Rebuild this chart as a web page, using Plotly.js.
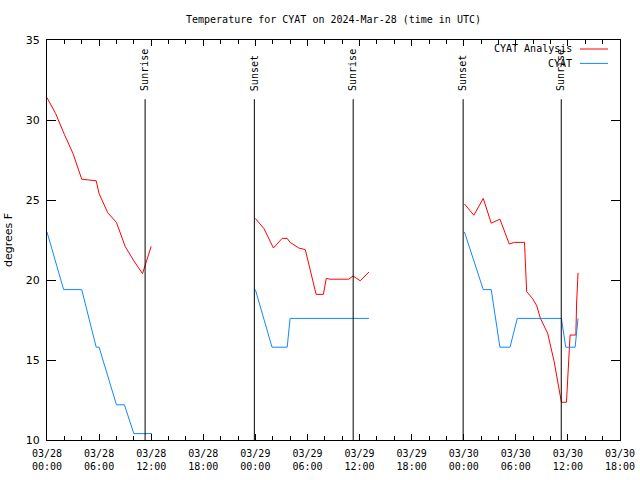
<!DOCTYPE html>
<html>
<head>
<meta charset="utf-8">
<script src="https://cdn.plot.ly/plotly-3.0.1.min.js"></script>
<style>html,body{margin:0;padding:0;background:#fff;}#chart{width:640px;height:480px;}</style>
</head>
<body>
<div id="chart"></div>
<script>
// ---- data ----
const analysisTimes = [
  '2024-03-28 00:00','2024-03-28 01:00','2024-03-28 02:00','2024-03-28 03:00','2024-03-28 04:00',
  '2024-03-28 05:00','2024-03-28 05:40','2024-03-28 06:00','2024-03-28 07:00','2024-03-28 08:00',
  '2024-03-28 09:00','2024-03-28 10:00','2024-03-28 11:00','2024-03-28 12:00',
  '2024-03-28 18:00',
  '2024-03-29 00:00','2024-03-29 01:00','2024-03-29 02:05','2024-03-29 03:05','2024-03-29 03:40',
  '2024-03-29 04:00','2024-03-29 05:00','2024-03-29 05:45','2024-03-29 07:00','2024-03-29 07:50',
  '2024-03-29 08:10','2024-03-29 08:35','2024-03-29 10:45','2024-03-29 11:15','2024-03-29 12:05',
  '2024-03-29 13:05',
  '2024-03-29 18:00',
  '2024-03-30 00:05','2024-03-30 01:10','2024-03-30 02:15','2024-03-30 03:10','2024-03-30 04:10',
  '2024-03-30 05:15','2024-03-30 05:50','2024-03-30 07:00','2024-03-30 07:15','2024-03-30 07:55',
  '2024-03-30 08:25','2024-03-30 08:50','2024-03-30 09:40','2024-03-30 10:25','2024-03-30 11:15',
  '2024-03-30 11:50','2024-03-30 12:15','2024-03-30 12:55','2024-03-30 13:00','2024-03-30 13:10'
];
const analysisTemps = [
  31.4, 30.4, 29.1, 27.9, 26.3,
  26.25, 26.2, 25.4, 24.2, 23.6,
  22.1, 21.2, 20.4, 22.1,
  null,
  23.85, 23.2, 22.0, 22.6, 22.6,
  22.35, 22.0, 21.9, 19.1, 19.1,
  20.1, 20.05, 20.05, 20.25, 19.95,
  20.5,
  null,
  24.75, 24.05, 25.1, 23.55, 23.8,
  22.25, 22.35, 22.35, 19.27, 18.85,
  18.38, 17.6, 16.67, 14.9, 12.36,
  12.36, 16.56, 16.56, 18.5, 20.45
];
const obsTimes = [
  '2024-03-28 00:00','2024-03-28 01:55','2024-03-28 04:00','2024-03-28 05:40','2024-03-28 06:00',
  '2024-03-28 08:00','2024-03-28 08:55','2024-03-28 10:00','2024-03-28 12:05',
  '2024-03-28 18:00',
  '2024-03-29 00:00','2024-03-29 01:55','2024-03-29 03:40','2024-03-29 04:00','2024-03-29 13:05',
  '2024-03-29 18:00',
  '2024-03-30 00:05','2024-03-30 02:15','2024-03-30 03:10','2024-03-30 04:10','2024-03-30 05:20',
  '2024-03-30 06:10','2024-03-30 11:15','2024-03-30 11:45','2024-03-30 12:50','2024-03-30 13:10'
];
const obsTemps = [
  23.0, 19.4, 19.4, 15.8, 15.8,
  12.2, 12.2, 10.4, 10.4,
  null,
  19.4, 15.8, 15.8, 17.6, 17.6,
  null,
  23.0, 19.4, 19.4, 15.8, 15.8,
  17.6, 17.6, 15.8, 15.8, 17.6
];
const sunTimes  = ['2024-03-28 11:18','2024-03-28 23:53','2024-03-29 11:16','2024-03-29 23:56','2024-03-30 11:14'];
const sunLabels = ['Sunrise','Sunset','Sunrise','Sunset','Sunrise'];
const tickVals = ['2024-03-28 00:00','2024-03-28 06:00','2024-03-28 12:00','2024-03-28 18:00',
                  '2024-03-29 00:00','2024-03-29 06:00','2024-03-29 12:00','2024-03-29 18:00',
                  '2024-03-30 00:00','2024-03-30 06:00','2024-03-30 12:00','2024-03-30 18:00'];
const tickText = ['03/28<br>00:00','03/28<br>06:00','03/28<br>12:00','03/28<br>18:00',
                  '03/29<br>00:00','03/29<br>06:00','03/29<br>12:00','03/29<br>18:00',
                  '03/30<br>00:00','03/30<br>06:00','03/30<br>12:00','03/30<br>18:00'];
const seriesNames = ['CYAT Analysis','CYAT'];
const seriesColors = ['#ff0000','#1188ff'];

// ---- chart ----
const mono = 'DejaVu Sans Mono, Liberation Mono, monospace';
const sans = 'DejaVu Sans, Liberation Sans, sans-serif';

const traces = [
  {x: analysisTimes, y: analysisTemps, type:'scatter', mode:'lines', name: seriesNames[0],
   line:{color: seriesColors[0], width:1}, connectgaps:false, hoverinfo:'skip'},
  {x: obsTimes, y: obsTemps, type:'scatter', mode:'lines', name: seriesNames[1],
   line:{color: seriesColors[1], width:1}, connectgaps:false, hoverinfo:'skip'}
];

const shapes = sunTimes.map(t => ({
  type:'line', xref:'x', yref:'paper', x0:t, x1:t, y0:0, y1:0.852,
  line:{color:'black', width:1}
}));
const annotations = sunTimes.map((t,i) => ({
  xref:'x', yref:'paper', x:t, y:0.868, text: sunLabels[i], textangle:-90,
  xanchor:'center', yanchor:'bottom', showarrow:false,
  font:{family:mono, size:10, color:'black'}
}));
// legend (gnuplot style: text then sample line)
seriesNames.forEach((n,i) => {
  const yp = 0.9775 - i*0.036;
  annotations.push({xref:'paper', yref:'paper', x:0.919, y:yp, text:n, xanchor:'right', yanchor:'middle',
    showarrow:false, font:{family:mono, size:10, color:'black'}});
  shapes.push({type:'line', xref:'paper', yref:'paper', x0:0.930, x1:0.979, y0:yp, y1:yp,
    line:{color: seriesColors[i], width:1}});
});

const layout = {
  width:640, height:480,
  margin:{l:47, r:20, t:40, b:40},
  paper_bgcolor:'white', plot_bgcolor:'white',
  showlegend:false,
  title:{text:'Temperature for CYAT on 2024-Mar-28 (time in UTC)', font:{family:mono, size:10, color:'black'},
         x:0.5, xref:'paper', xanchor:'center', y:1-19/480, yref:'container', yanchor:'middle'},
  xaxis:{type:'date', range:['2024-03-28 00:00','2024-03-30 18:00'],
         tickmode:'array', tickvals:tickVals, ticktext:tickText,
         ticks:'inside', ticklen:6, tickcolor:'black', tickwidth:1,
         minor:{dtick:2*3600*1000, ticks:'inside', ticklen:4, tickcolor:'black', tickwidth:1, showgrid:false},
         showline:true, linecolor:'black', linewidth:1, mirror:'ticks',
         showgrid:false, zeroline:false, ticklabelstandoff:4,
         tickfont:{family:mono, size:10, color:'black', lineposition:'none'}},
  yaxis:{range:[10,35], dtick:5, tick0:10,
         ticks:'inside', ticklen:9, tickcolor:'black', tickwidth:1,
         showline:true, linecolor:'black', linewidth:1, mirror:'ticks',
         showgrid:false, zeroline:false, ticklabelstandoff:4,
         tickfont:{family:sans, size:11, color:'black'},
         title:{text:'degrees F', font:{family:sans, size:11, color:'black'}, standoff:10}},
  shapes: shapes,
  annotations: annotations
};

Plotly.newPlot('chart', traces, layout, {staticPlot:true, displayModeBar:false});
</script>
</body>
</html>
